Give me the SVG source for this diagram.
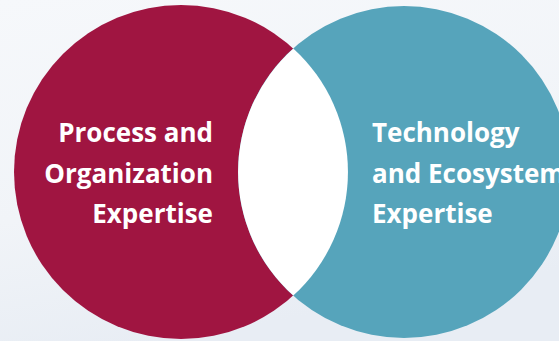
<svg xmlns="http://www.w3.org/2000/svg" width="559" height="341" viewBox="0 0 559 341">
  <defs>
    <linearGradient id="bg" x1="0" y1="0" x2="0.3" y2="1">
      <stop offset="0" stop-color="#F6F8FB"/>
      <stop offset="0.6" stop-color="#F1F4F8"/>
      <stop offset="1" stop-color="#E8EDF4"/>
    </linearGradient>
    <style>
      .lbl { font-family: "Open Sans", "Liberation Sans", sans-serif; font-weight: 700; font-size: 26px; fill: #FFFFFF; }
      .left { text-anchor: end; }
      .right { text-anchor: start; }
    </style>
  </defs>
  <rect x="0" y="0" width="559" height="341" fill="url(#bg)"/>
  <g id="process-organization">
    <circle cx="181" cy="172" r="167" fill="#A01541"/>
    <text class="lbl left" x="213" y="142">Process and</text>
    <text class="lbl left" x="213" y="183">Organization</text>
    <text class="lbl left" x="213" y="223">Expertise</text>
  </g>
  <g id="technology-ecosystem">
    <circle cx="404" cy="172" r="166" fill="#56A4BB"/>
    <text class="lbl right" x="372" y="142">Technology</text>
    <text class="lbl right" x="372" y="183">and Ecosystem</text>
    <text class="lbl right" x="372" y="223">Expertise</text>
  </g>
  <g id="overlap">
    <path d="M 293.25 48.4 A 167 167 0 0 1 293.25 295.6 A 166 166 0 0 1 293.25 48.4 Z" fill="#FFFFFF"/>
  </g>
</svg>
